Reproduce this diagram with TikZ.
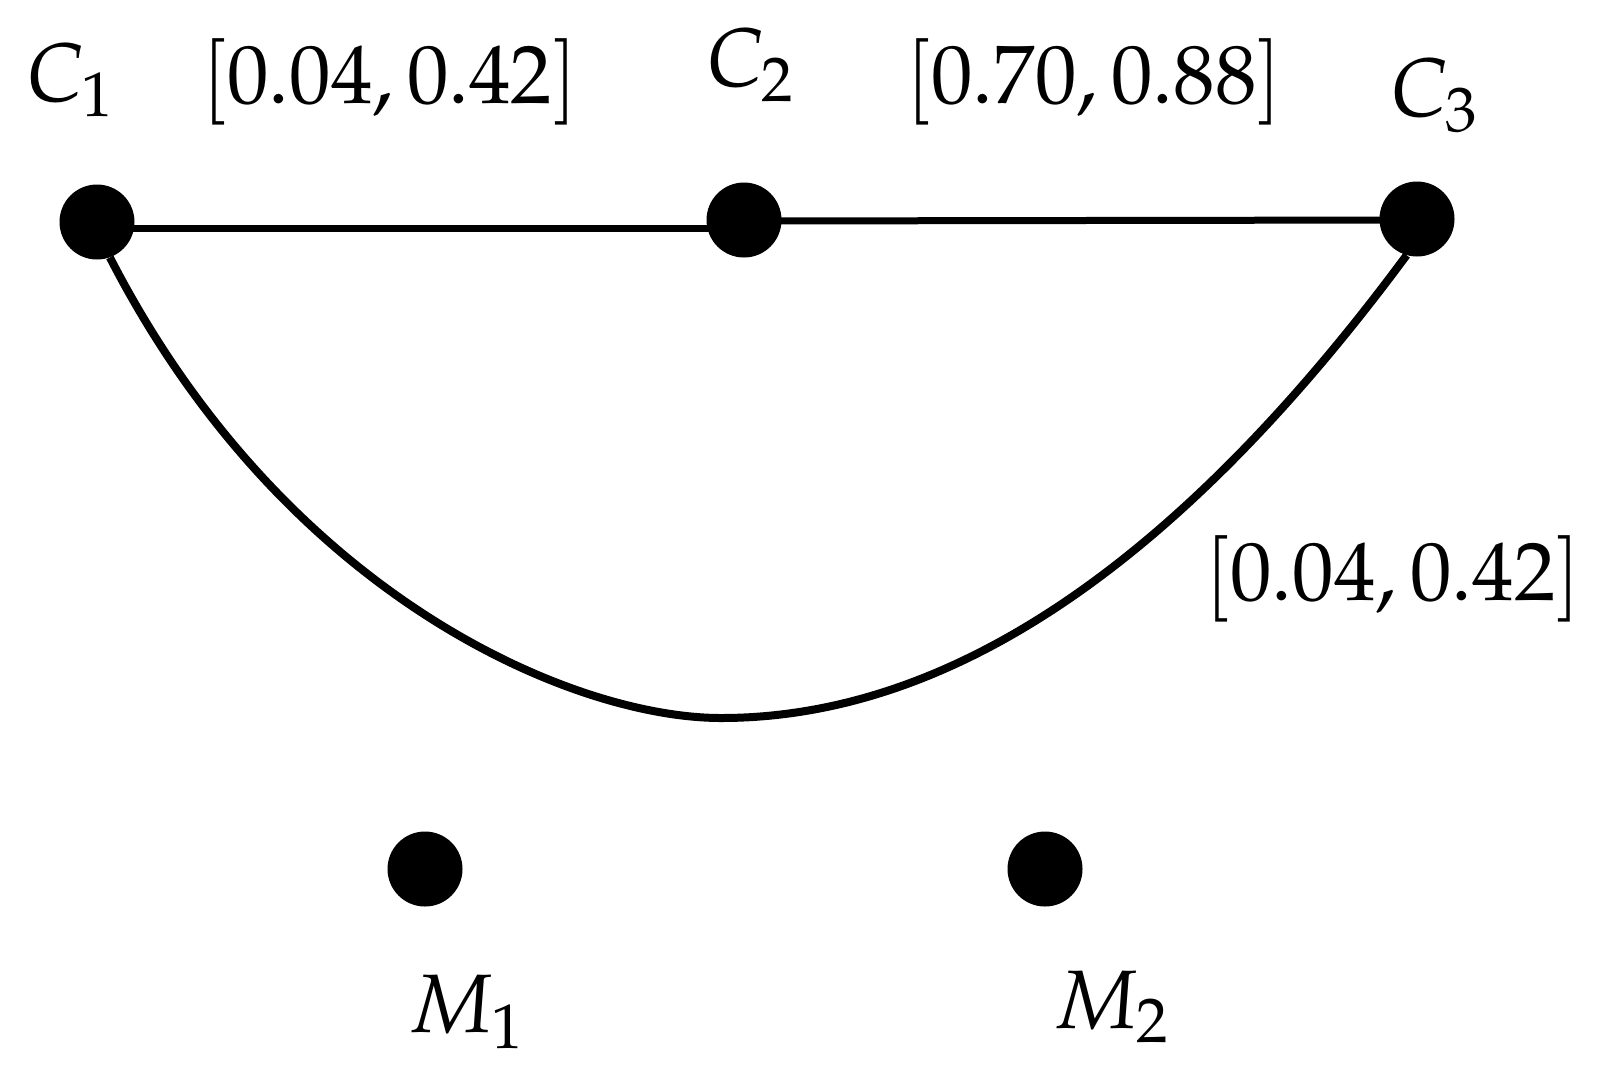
\documentclass[tikz,border=0pt]{standalone}
\usepackage{mathpazo}
\begin{document}
\begin{tikzpicture}[x=1pt,y=-1pt,
  dot/.style={circle,fill=black,inner sep=0pt,minimum size=75pt},
  lab/.style={inner sep=0pt,font=\fontsize{83}{100}\selectfont},
  edge/.style={line width=7pt,black},
  arc/.style={line width=8pt,black}]
\useasboundingbox (0,0) rectangle (1605,1072);
\node[dot] (C1) at (97,222) {};
\node[dot] (C2) at (744,220) {};
\node[dot] (C3) at (1417,219) {};
\node[dot] (M1) at (425,869) {};
\node[dot] (M2) at (1045,869) {};
\coordinate (V) at (721,718);
\draw[edge] ([yshift=-6pt]C1.center) -- ([yshift=-8pt]C2.center);
\draw[edge] ([yshift=-1pt]C2.center) -- ([yshift=-1pt]C3.center);
\draw[arc] (C1.290) .. controls (285,598) and (574,718) .. (V)
  .. controls (950,718) and (1178,564) .. (C3.254);
\node[lab] (lC1) at (70,80) {$C_1$};
\node[lab] (lC2) at (750,65) {$C_2$};
\node[lab] (lC3) at (1434,95) {$C_3$};
\node[lab] (e12) at (390,82) {$[0.04,0.42]$};
\node[lab] (e23) at (1094,82) {$[0.70,0.88]$};
\node[lab] (e13) at (1393,579) {$[0.04,0.42]$};
\node[lab] (lM1) at (466,1012) {$M_1$};
\node[lab] (lM2) at (1111,1007) {$M_2$};
\end{tikzpicture}
\end{document}
